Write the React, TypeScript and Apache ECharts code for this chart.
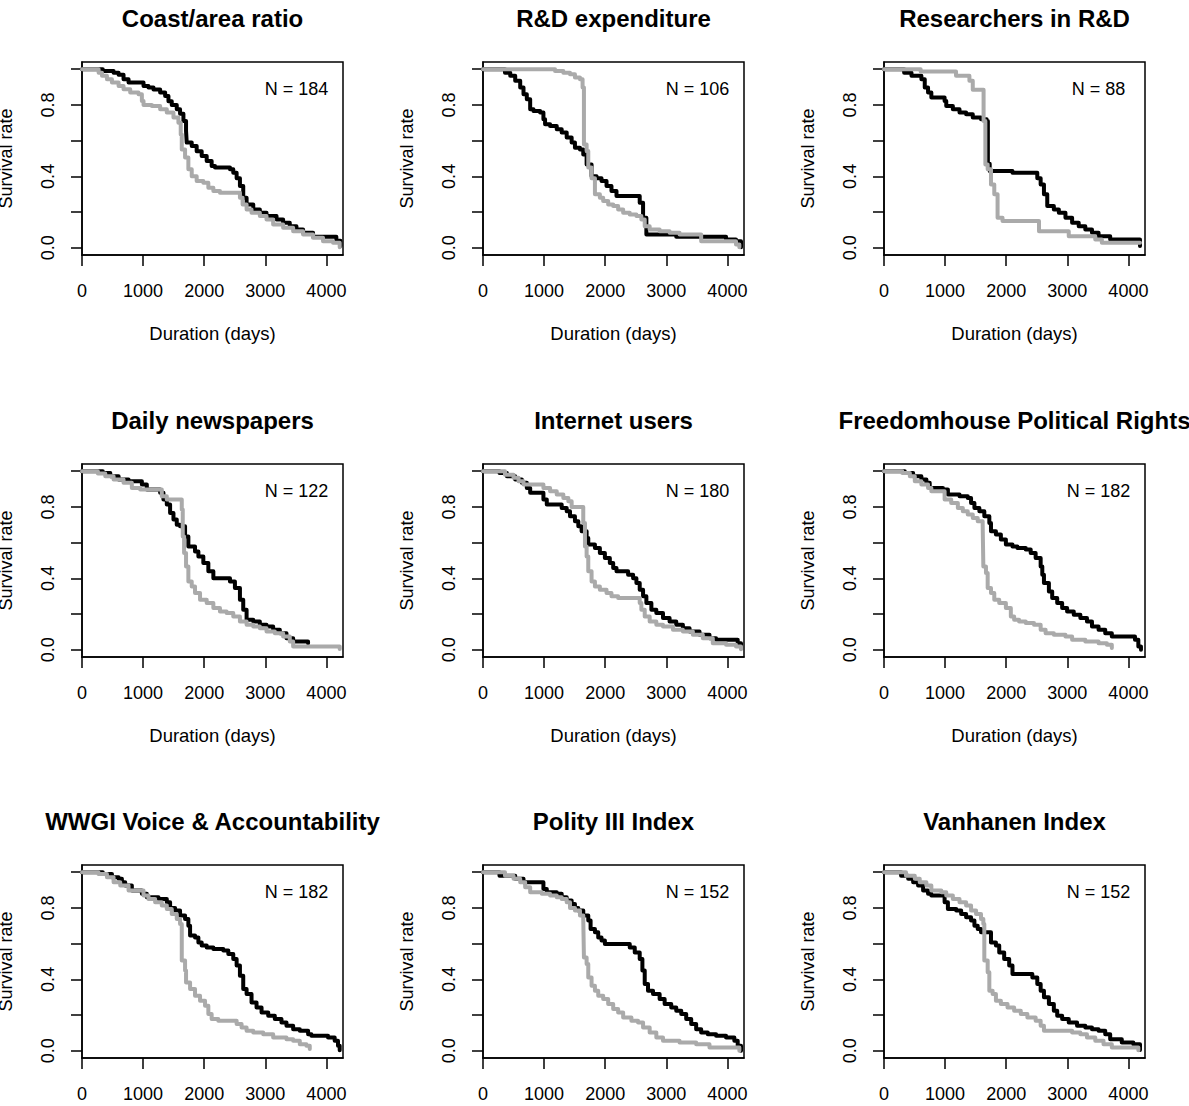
import React, { useEffect, useRef } from "react";
import * as echarts from "echarts";

const panelTitles = [
  "Coast/area ratio",
  "R&D expenditure",
  "Researchers in R&D",
  "Daily newspapers",
  "Internet users",
  "Freedomhouse Political Rights",
  "WWGI Voice & Accountability",
  "Polity III Index",
  "Vanhanen Index",
];
const panelN = [184, 106, 88, 122, 180, 182, 182, 152, 152];
const xTicks = [0, 1000, 2000, 3000, 4000];
const yTicks = [0, 0.2, 0.4, 0.6, 0.8, 1];
const yLabels = [0, 0.4, 0.8];

type Pt = [number, number];

const coastBlack: Pt[] = [[0,1],[340,0.99],[517,0.98],[599,0.968],[680,0.944],[762,0.925],[1007,0.906],[1088,0.897],[1170,0.886],[1279,0.87],[1361,0.85],[1415,0.82],[1469,0.8],[1551,0.776],[1605,0.75],[1660,0.71],[1703,0.654],[1714,0.589],[1796,0.57],[1877,0.54],[1959,0.514],[2041,0.486],[2122,0.458],[2177,0.449],[2422,0.44],[2476,0.42],[2531,0.39],[2585,0.346],[2639,0.28],[2694,0.243],[2803,0.215],[2911,0.196],[3020,0.178],[3184,0.159],[3292,0.14],[3401,0.121],[3510,0.103],[3619,0.084],[3782,0.062],[4163,0.04],[4230,0.01]];
const coastGray: Pt[] = [[0,1],[272,0.98],[327,0.963],[408,0.944],[490,0.925],[599,0.906],[680,0.888],[789,0.87],[925,0.86],[980,0.822],[1007,0.8],[1143,0.794],[1279,0.776],[1388,0.757],[1497,0.729],[1578,0.7],[1616,0.635],[1633,0.551],[1687,0.505],[1741,0.44],[1796,0.4],[1877,0.374],[1986,0.364],[2068,0.336],[2150,0.318],[2258,0.308],[2585,0.28],[2629,0.243],[2694,0.215],[2775,0.196],[2911,0.178],[3020,0.159],[3129,0.131],[3292,0.112],[3456,0.093],[3619,0.075],[3782,0.056],[3945,0.037],[4109,0.028],[4218,0.004]];

const rdBlack: Pt[] = [[0,1],[360,0.98],[446,0.963],[527,0.935],[609,0.897],[663,0.86],[717,0.832],[772,0.776],[826,0.766],[935,0.757],[989,0.72],[1016,0.692],[1098,0.682],[1207,0.664],[1288,0.645],[1370,0.617],[1451,0.589],[1505,0.56],[1587,0.551],[1641,0.523],[1696,0.467],[1777,0.4],[1859,0.39],[1940,0.374],[2022,0.346],[2103,0.318],[2185,0.29],[2565,0.252],[2620,0.168],[2674,0.075],[3163,0.062],[3978,0.047],[4141,0.037],[4223,0.004]];
const rdGray: Pt[] = [[0,1],[1179,0.99],[1315,0.98],[1424,0.972],[1505,0.953],[1587,0.944],[1630,0.897],[1652,0.579],[1696,0.542],[1723,0.449],[1777,0.39],[1832,0.3],[1913,0.28],[1967,0.262],[2049,0.243],[2131,0.234],[2212,0.215],[2294,0.196],[2402,0.187],[2511,0.178],[2592,0.159],[2647,0.121],[2728,0.103],[2891,0.093],[3054,0.084],[3217,0.075],[3571,0.037],[4141,0.019],[4196,0.004]];

const researchersBlack: Pt[] = [[0,1],[330,0.98],[450,0.963],[612,0.944],[667,0.897],[721,0.87],[775,0.841],[992,0.822],[1019,0.794],[1127,0.776],[1236,0.757],[1344,0.748],[1453,0.729],[1588,0.72],[1680,0.71],[1700,0.47],[1730,0.43],[2103,0.42],[2509,0.39],[2564,0.355],[2618,0.3],[2672,0.234],[2780,0.215],[2862,0.196],[2970,0.168],[3079,0.14],[3187,0.121],[3295,0.103],[3404,0.084],[3512,0.065],[3702,0.047],[4190,0.01]];
const researchersGray: Pt[] = [[0,1],[600,0.987],[1179,0.963],[1398,0.935],[1453,0.885],[1630,0.71],[1659,0.467],[1697,0.44],[1751,0.355],[1805,0.3],[1859,0.168],[1940,0.15],[2537,0.093],[3024,0.065],[3458,0.047],[3566,0.028],[4190,0.028]];

const newspapersBlack: Pt[] = [[0,1],[340,0.99],[463,0.972],[599,0.953],[762,0.944],[980,0.925],[1061,0.897],[1279,0.879],[1333,0.841],[1388,0.813],[1442,0.766],[1497,0.729],[1551,0.7],[1605,0.692],[1687,0.635],[1741,0.579],[1850,0.551],[1905,0.523],[1986,0.486],[2068,0.44],[2150,0.4],[2422,0.383],[2503,0.346],[2585,0.28],[2639,0.224],[2694,0.168],[2803,0.159],[2911,0.14],[3020,0.131],[3129,0.112],[3238,0.093],[3347,0.065],[3456,0.047],[3700,0.037]];
const newspapersGray: Pt[] = [[0,1],[260,0.987],[381,0.972],[517,0.953],[680,0.935],[816,0.906],[952,0.897],[1306,0.86],[1388,0.841],[1633,0.785],[1649,0.635],[1671,0.542],[1703,0.467],[1741,0.383],[1796,0.355],[1850,0.318],[1932,0.28],[2041,0.262],[2150,0.234],[2258,0.215],[2367,0.206],[2476,0.187],[2585,0.159],[2694,0.14],[2803,0.131],[2911,0.121],[3020,0.103],[3156,0.093],[3292,0.075],[3401,0.047],[3456,0.019],[4218,0.005]];

const internetBlack: Pt[] = [[0,1],[270,0.99],[391,0.972],[527,0.953],[636,0.935],[717,0.906],[772,0.879],[989,0.841],[1044,0.813],[1288,0.794],[1370,0.776],[1424,0.748],[1505,0.72],[1560,0.692],[1614,0.664],[1696,0.626],[1723,0.589],[1832,0.57],[1913,0.542],[1995,0.514],[2076,0.486],[2131,0.458],[2185,0.44],[2375,0.42],[2457,0.4],[2511,0.374],[2565,0.336],[2620,0.3],[2674,0.262],[2756,0.224],[2837,0.206],[2946,0.178],[3054,0.159],[3163,0.14],[3272,0.121],[3381,0.103],[3544,0.084],[3707,0.065],[3815,0.056],[4169,0.037],[4223,0.01]];
const internetGray: Pt[] = [[0,1],[360,0.98],[500,0.963],[582,0.944],[663,0.925],[989,0.906],[1098,0.888],[1207,0.87],[1315,0.85],[1397,0.832],[1451,0.8],[1641,0.71],[1669,0.579],[1696,0.523],[1723,0.44],[1777,0.383],[1832,0.355],[1913,0.336],[2022,0.318],[2103,0.3],[2212,0.29],[2565,0.262],[2592,0.224],[2647,0.187],[2728,0.159],[2837,0.14],[2946,0.131],[3109,0.112],[3272,0.103],[3435,0.084],[3598,0.065],[3761,0.037],[3978,0.028],[4141,0.019],[4223,0.004]];

const freedomBlack: Pt[] = [[0,1],[340,0.99],[477,0.972],[612,0.953],[694,0.935],[748,0.906],[965,0.897],[1046,0.87],[1236,0.86],[1371,0.85],[1425,0.822],[1480,0.794],[1561,0.776],[1642,0.748],[1724,0.71],[1751,0.664],[1832,0.645],[1913,0.617],[1995,0.589],[2103,0.579],[2184,0.57],[2320,0.561],[2401,0.542],[2482,0.514],[2564,0.467],[2591,0.42],[2618,0.374],[2699,0.327],[2753,0.29],[2835,0.262],[2916,0.234],[2997,0.215],[3106,0.196],[3214,0.178],[3322,0.159],[3404,0.131],[3512,0.112],[3621,0.093],[3729,0.075],[4108,0.056],[4163,0.019],[4206,0.0]];
const freedomGray: Pt[] = [[0,1],[300,0.99],[423,0.972],[504,0.944],[612,0.925],[721,0.906],[775,0.888],[992,0.841],[1100,0.822],[1209,0.794],[1290,0.776],[1371,0.757],[1453,0.738],[1534,0.72],[1615,0.7],[1626,0.467],[1669,0.43],[1697,0.346],[1751,0.318],[1805,0.28],[1886,0.262],[1995,0.234],[2076,0.187],[2130,0.168],[2211,0.159],[2320,0.15],[2455,0.14],[2564,0.112],[2645,0.093],[2780,0.084],[2970,0.075],[3079,0.056],[3295,0.047],[3512,0.037],[3648,0.028],[3729,0.01]];

const wwgiBlack: Pt[] = [[0,1],[340,0.99],[490,0.972],[599,0.963],[653,0.944],[707,0.925],[816,0.897],[980,0.879],[1061,0.86],[1252,0.85],[1388,0.832],[1442,0.8],[1524,0.785],[1605,0.757],[1687,0.738],[1741,0.7],[1769,0.645],[1850,0.635],[1905,0.607],[1959,0.589],[2041,0.579],[2150,0.57],[2313,0.561],[2395,0.542],[2476,0.514],[2531,0.477],[2585,0.42],[2639,0.346],[2694,0.318],[2775,0.271],[2857,0.243],[2939,0.215],[3048,0.196],[3156,0.178],[3265,0.159],[3347,0.14],[3456,0.121],[3565,0.112],[3701,0.093],[3755,0.084],[4027,0.075],[4136,0.056],[4190,0.028],[4218,0.004]];
const wwgiGray: Pt[] = [[0,1],[270,0.99],[408,0.972],[517,0.944],[626,0.925],[762,0.897],[1007,0.87],[1088,0.85],[1197,0.832],[1306,0.813],[1388,0.794],[1469,0.766],[1551,0.738],[1605,0.71],[1633,0.505],[1687,0.449],[1703,0.383],[1769,0.346],[1850,0.308],[1932,0.28],[2014,0.252],[2068,0.206],[2122,0.178],[2231,0.168],[2531,0.15],[2612,0.131],[2694,0.112],[2803,0.103],[2966,0.093],[3129,0.075],[3347,0.065],[3456,0.056],[3565,0.037],[3673,0.028],[3728,0.01]];

const polityBlack: Pt[] = [[0,1],[270,0.98],[527,0.963],[663,0.944],[989,0.906],[1044,0.888],[1207,0.879],[1288,0.86],[1370,0.841],[1451,0.822],[1505,0.8],[1560,0.785],[1641,0.757],[1723,0.729],[1761,0.682],[1832,0.664],[1886,0.635],[1940,0.617],[1995,0.598],[2402,0.579],[2484,0.551],[2565,0.514],[2609,0.449],[2647,0.374],[2701,0.336],[2783,0.318],[2891,0.29],[2973,0.262],[3081,0.243],[3163,0.224],[3245,0.206],[3326,0.178],[3408,0.15],[3489,0.121],[3571,0.103],[3679,0.093],[3815,0.084],[3978,0.075],[4114,0.056],[4169,0.028],[4223,0.0]];
const polityGray: Pt[] = [[0,1],[360,0.98],[500,0.963],[609,0.944],[690,0.916],[772,0.888],[962,0.879],[1098,0.87],[1207,0.86],[1288,0.85],[1370,0.832],[1424,0.8],[1505,0.785],[1587,0.757],[1641,0.738],[1652,0.523],[1696,0.486],[1723,0.411],[1777,0.364],[1832,0.336],[1886,0.308],[1967,0.29],[2049,0.262],[2131,0.234],[2212,0.215],[2294,0.187],[2429,0.168],[2538,0.159],[2620,0.131],[2728,0.103],[2837,0.075],[2946,0.056],[3217,0.047],[3489,0.037],[3707,0.019],[4196,0.0]];

const vanhanenBlack: Pt[] = [[0,1],[280,0.98],[396,0.963],[477,0.944],[558,0.925],[640,0.897],[721,0.879],[775,0.87],[992,0.832],[1046,0.794],[1182,0.785],[1263,0.766],[1344,0.748],[1425,0.729],[1480,0.7],[1534,0.682],[1588,0.664],[1751,0.607],[1832,0.589],[1886,0.551],[1967,0.514],[2049,0.477],[2103,0.43],[2428,0.411],[2509,0.374],[2564,0.336],[2618,0.3],[2699,0.262],[2780,0.224],[2835,0.196],[2916,0.178],[3024,0.159],[3160,0.14],[3295,0.131],[3404,0.121],[3512,0.112],[3621,0.093],[3702,0.065],[3892,0.047],[4081,0.037],[4190,0.005]];
const vanhanenGray: Pt[] = [[0,1],[360,0.98],[504,0.963],[585,0.944],[694,0.925],[775,0.897],[938,0.888],[1019,0.87],[1127,0.85],[1236,0.832],[1344,0.813],[1425,0.785],[1507,0.766],[1588,0.738],[1626,0.71],[1642,0.505],[1697,0.44],[1724,0.336],[1778,0.318],[1832,0.28],[1913,0.262],[2022,0.243],[2130,0.224],[2239,0.206],[2347,0.187],[2482,0.168],[2564,0.14],[2618,0.112],[3079,0.103],[3214,0.093],[3322,0.075],[3458,0.056],[3593,0.037],[3729,0.019],[4163,0.004]];

const blackCurves = [coastBlack, rdBlack, researchersBlack, newspapersBlack, internetBlack, freedomBlack, wwgiBlack, polityBlack, vanhanenBlack];
const grayCurves = [coastGray, rdGray, researchersGray, newspapersGray, internetGray, freedomGray, wwgiGray, polityGray, vanhanenGray];

const FONT = "'Liberation Sans', Arial, Helvetica, sans-serif";
const COL_LEFT = [82, 483, 884];
const ROW_TOP = [62, 464, 865];
const BOX_W = 261;
const BOX_H = 193;
const GRAY = "#aaaaaa";

function buildOption() {
  const grids: any[] = [];
  const xAxes: any[] = [];
  const yAxes: any[] = [];
  const series: any[] = [];
  const graphics: any[] = [];
  for (let i = 0; i < 9; i++) {
    const c = i % 3;
    const r = Math.floor(i / 3);
    const left = COL_LEFT[c];
    const top = ROW_TOP[r];
    grids.push({
      left, top, width: BOX_W, height: BOX_H,
      show: true, borderColor: "#000", borderWidth: 1.5,
      backgroundColor: "transparent", containLabel: false,
      outerBoundsMode: "none",
    });
    xAxes.push({
      type: "value", gridIndex: i, min: 0, max: 4272,
      splitLine: { show: false },
      axisLine: { show: true, onZero: false, lineStyle: { color: "#000", width: 1.5 } },
      axisTick: { show: true, length: 11, customValues: xTicks, lineStyle: { color: "#000", width: 1.5 } },
      axisLabel: {
        show: true, customValues: xTicks, margin: 27, color: "#000",
        fontSize: 18, lineHeight: 18, fontFamily: FONT,
        formatter: (v: number) => String(v),
      },
      name: "Duration (days)", nameLocation: "middle", nameGap: 69,
      nameTextStyle: { color: "#000", fontSize: 18.5, lineHeight: 18, fontFamily: FONT },
    });
    yAxes.push({
      type: "value", gridIndex: i, min: -0.04, max: 1.04,
      splitLine: { show: false },
      axisLine: { show: true, onZero: false, lineStyle: { color: "#000", width: 1.5 } },
      axisTick: { show: true, length: 11, customValues: yTicks, lineStyle: { color: "#000", width: 1.5 } },
      axisLabel: {
        show: true, customValues: yLabels, rotate: 90, margin: 25, color: "#000",
        fontSize: 18, lineHeight: 18, fontFamily: FONT,
        formatter: (v: number) => v.toFixed(1),
      },
      name: "Survival rate", nameLocation: "middle", nameGap: 67, nameRotate: 90,
      nameTextStyle: { color: "#000", fontSize: 18, lineHeight: 18, fontFamily: FONT },
    });
    series.push({
      type: "line", xAxisIndex: i, yAxisIndex: i, data: blackCurves[i],
      step: "end", symbol: "none", showSymbol: false, silent: true, z: 2,
      lineStyle: { color: "#000", width: 4, cap: "round", join: "round" },
    });
    series.push({
      type: "line", xAxisIndex: i, yAxisIndex: i, data: grayCurves[i],
      step: "end", symbol: "none", showSymbol: false, silent: true, z: 3,
      lineStyle: { color: GRAY, width: 4, cap: "round", join: "round" },
    });
    graphics.push({
      type: "text", x: left + BOX_W / 2, y: top - 44, silent: true,
      style: {
        text: panelTitles[i], fill: "#000", fontSize: 24, fontWeight: "bold",
        fontFamily: FONT, align: "center", verticalAlign: "middle",
      },
    });
    graphics.push({
      type: "text", x: left + 214.5, y: top + 26.5, silent: true,
      style: {
        text: "N = " + panelN[i], fill: "#000", fontSize: 18,
        fontFamily: FONT, align: "center", verticalAlign: "middle",
      },
    });
  }
  return {
    animation: false,
    backgroundColor: "#ffffff",
    grid: grids,
    xAxis: xAxes,
    yAxis: yAxes,
    series,
    graphic: graphics,
  };
}

export default function App() {
  const ref = useRef<HTMLDivElement>(null);
  useEffect(() => {
    if (!ref.current) return;
    const chart = echarts.init(ref.current, undefined, { renderer: "svg" });
    chart.setOption(buildOption() as any);
    return () => chart.dispose();
  }, []);
  return (
    <div
      ref={ref}
      style={{ position: "absolute", left: 0, top: 0, width: 1189, height: 1106, background: "#fff" }}
    />
  );
}
